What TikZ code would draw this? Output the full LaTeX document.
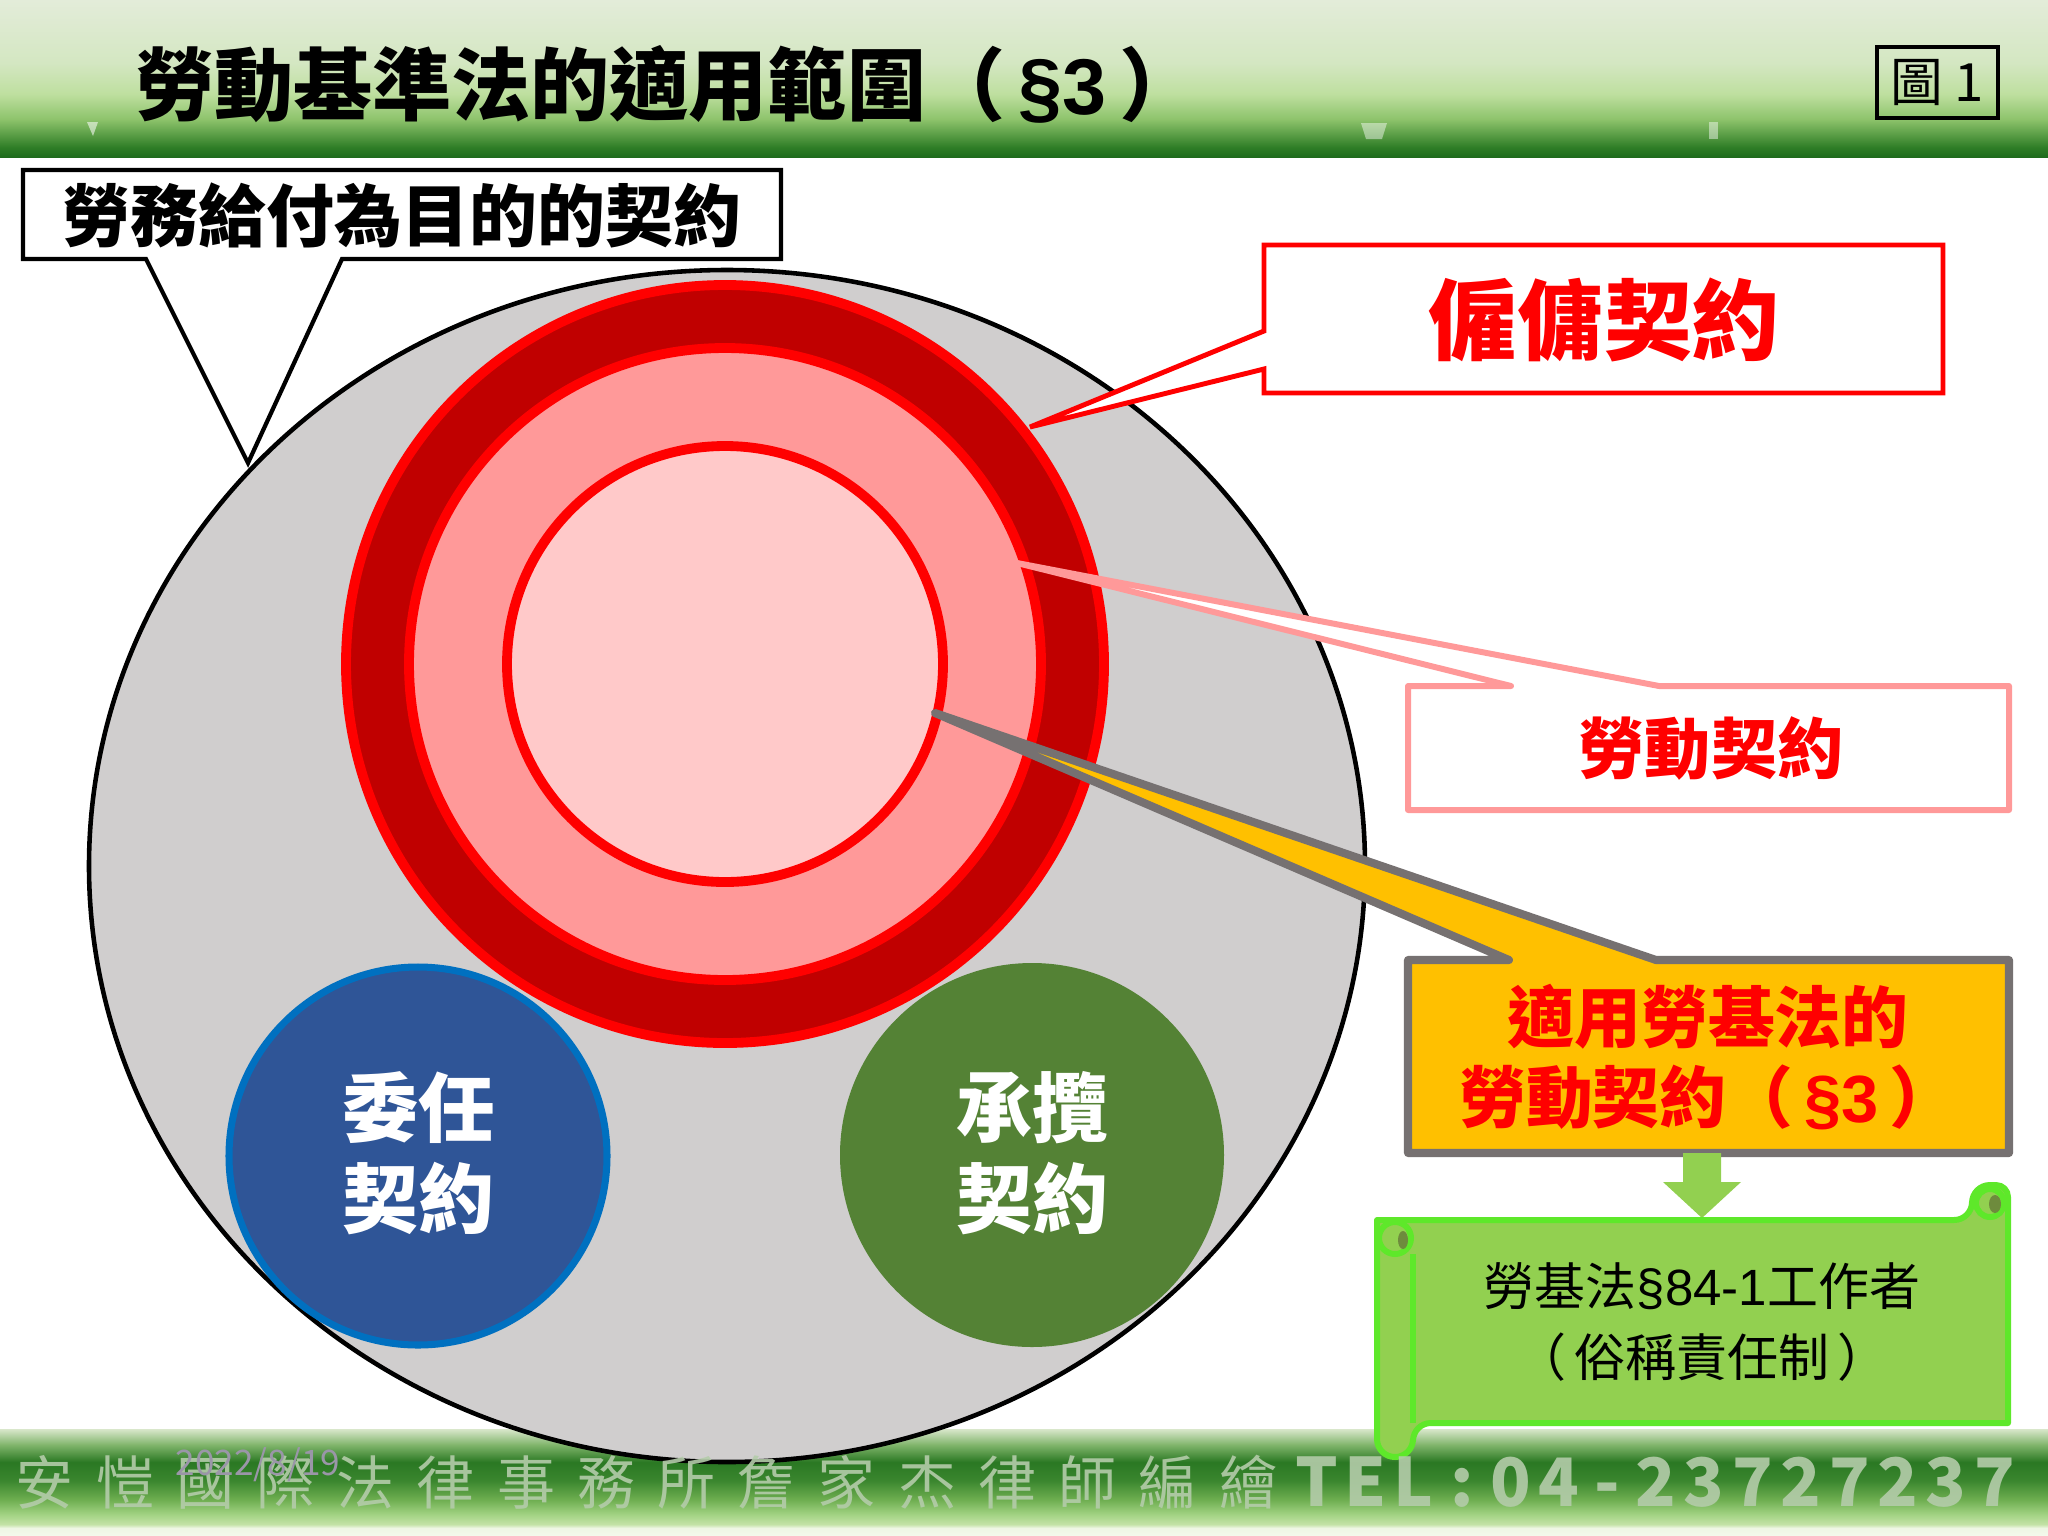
\documentclass[tikz,border=0pt]{standalone}
\usepackage{fontspec}
\setmainfont{Noto Sans CJK TC}
\newfontfamily\latinf{Liberation Sans}
\usetikzlibrary{calc}
\definecolor{grayfill}{HTML}{D0CECE}
\definecolor{darkred}{HTML}{C00000}
\definecolor{pinkmid}{HTML}{FF9999}
\definecolor{pinklight}{HTML}{FFC9C9}
\definecolor{pinkline}{HTML}{FF9999}
\definecolor{bluefill}{HTML}{2F5597}
\definecolor{blueline}{HTML}{0070C0}
\definecolor{greenfill}{HTML}{548235}
\definecolor{yellowfill}{HTML}{FFC000}
\definecolor{grayline}{HTML}{767171}
\definecolor{scrollfill}{HTML}{92D050}
\definecolor{scrollline}{HTML}{5EE82A}
\definecolor{curl}{HTML}{6E8B3D}
\definecolor{datecol}{HTML}{9A96A8}
\definecolor{ftxt}{HTML}{B4CCAA}
% header colours
\definecolor{hd0}{HTML}{1E6B1C}
\definecolor{hd1}{HTML}{2E7D26}
\definecolor{hd2}{HTML}{8DC36B}
\definecolor{hd3}{HTML}{BEDF9F}
\definecolor{hd4}{HTML}{D4E7C2}
\definecolor{hd5}{HTML}{E3ECD9}
% footer colours
\definecolor{ft0}{HTML}{F4F9EC}
\definecolor{ft1}{HTML}{EEF6E4}
\definecolor{ft2}{HTML}{C3E2A6}
\definecolor{ft3}{HTML}{A3D384}
\definecolor{ft4}{HTML}{6EAE50}
\definecolor{ft5}{HTML}{3A862E}
\definecolor{ft6}{HTML}{2A7823}
\definecolor{ft7}{HTML}{7FB46A}
\definecolor{ft8}{HTML}{D9E7CB}
\pgfdeclareverticalshading{hdrshade}{100bp}{color(0bp)=(hd0); color(25bp)=(hd0); color(28bp)=(hd1); color(37bp)=(hd2); color(45bp)=(hd3); color(55bp)=(hd4); color(75bp)=(hd5); color(100bp)=(hd5)}
\pgfdeclareverticalshading{ftrshade}{100bp}{color(0bp)=(ft0); color(25bp)=(ft0); color(28.75bp)=(ft1); color(30.5bp)=(ft2); color(35bp)=(ft3); color(42bp)=(ft4); color(51bp)=(ft5); color(59.5bp)=(ft6); color(67.5bp)=(ft7); color(75bp)=(ft8); color(100bp)=(ft8)}
\tikzset{
  boldtxt/.style={font=\bfseries\fontsize{#1}{30}\selectfont},
  circtxt/.style={text=white, align=center, font=\bfseries\fontsize{21.6}{26}\selectfont},
  foottxt/.style={anchor=base, font=\fontsize{16.5}{18}\selectfont},
  telttxt/.style={anchor=base, font=\bfseries\fontsize{19}{21}\selectfont},
}
\newcommand{\secsym}[1]{{\latinf\bfseries §#1}}
\begin{document}
\begin{tikzpicture}[x=0.01cm,y=-0.01cm, every node/.style={inner sep=0pt, outer sep=0pt}]
\useasboundingbox (0,0) rectangle (2048,1536);
\fill[white] (0,0) rectangle (2048,1536);
% ---------------- header
\shade[shading=hdrshade] (0,0) rectangle (2048,157);
\fill[white, opacity=.55] (87,122) -- (98,122) -- (93,136) -- cycle;
\fill[white, opacity=.45] (1361,123) -- (1387,123) -- (1382,139) -- (1366,139) -- cycle;
\fill[white, opacity=.45] (1709,122) rectangle (1718,139);
\node[anchor=west, font=\bfseries\fontsize{22.5}{26}\selectfont] (title) at (135,84) {勞動基準法的適用範圍（\,\secsym{3}\,）};
\draw[line width=1.3pt] (1877,47) rectangle (1998,118);
\node[font=\fontsize{15}{18}\selectfont] (fig) at (1937,83) {圖 1};
% ---------------- footer band
\shade[shading=ftrshade] (0,1429) rectangle (2048,1536);
% ---------------- big gray circle
\coordinate (big) at (727,866);
\draw[fill=grayfill, line width=1.3pt] (big) ellipse [x radius=638, y radius=596];
% small circles
\coordinate (bluec) at (418,1156);
\coordinate (greenc) at (1032,1155);
\draw[blueline, fill=bluefill, line width=2pt] (bluec) circle[radius=189];
\fill[greenfill] (greenc) circle[radius=192];
% red rings
\coordinate (ring) at (725,664);
\draw[red, fill=darkred, line width=2.8pt] (ring) circle[radius=379];
\draw[red, fill=pinkmid, line width=2.8pt] (ring) circle[radius=316];
\draw[red, fill=pinklight, line width=2.8pt] (ring) circle[radius=218];
% ---------------- callout: 勞務給付為目的的契約
\draw[fill=white, line width=1.2pt] (23,170) -- (781,170) -- (781,259) -- (342,259) -- (248,463) -- (146,259) -- (23,259) -- cycle;
\node[boldtxt=19.3] (lab) at (402,215) {勞務給付為目的的契約};
% ---------------- callout: 僱傭契約
\draw[red, fill=white, line width=1.4pt] (1264,245) -- (1943,245) -- (1943,393) -- (1264,393) -- (1264,369) -- (1030,427) -- (1264,331) -- cycle;
\node[boldtxt=25, text=red] (emp) at (1604,320) {僱傭契約};
% ---------------- callout: 勞動契約
\draw[pinkline, fill=white, line width=1.7pt, line join=round] (1408,686) -- (1511,686) -- (1017,563) -- (1659,686) -- (2009,686) -- (2009,810) -- (1408,810) -- cycle;
\node[boldtxt=18.8, text=red] (lab2) at (1711,748) {勞動契約};
% ---------------- callout: 適用勞基法的勞動契約
\draw[grayline, fill=yellowfill, line width=2.3pt, line join=round] (1408,960) -- (1509,960) -- (935,713) -- (1656,960) -- (2009,960) -- (2009,1153) -- (1408,1153) -- cycle;
\node[text=red, align=center, font=\bfseries\fontsize{19}{23}\selectfont] (app) at (1708,1057) {適用勞基法的\\勞動契約（\,\secsym{3}\,）};
% ---------------- arrow
\coordinate (arrS) at (1702,1153);
\coordinate (arrT) at (1702,1218);
\fill[scrollfill] ($(arrS)+(-19,0)$) -- ($(arrS)+(19,0)$) -- ($(arrS)+(19,29)$) -- ($(arrS)+(39,29)$) -- (arrT) -- ($(arrS)+(-39,29)$) -- ($(arrS)+(-19,29)$) -- cycle;
% ---------------- scroll
\draw[scrollline, fill=scrollfill, line width=1.7pt, line join=round]
  (1413,1423) -- (2008,1423) [rounded corners=3.4pt] -- (2008,1185) [rounded corners=5.1pt] -- (1972,1185) -- (1972,1220) [sharp corners] -- (1377,1220) [rounded corners=5.1pt] -- (1377,1457) -- (1413,1457) -- cycle;
\draw[scrollline, line width=1.7pt] (1413,1423) -- (1413,1254);
\draw[scrollline, fill=scrollfill, line width=1.7pt] (1395,1238) circle[radius=16];
\fill[curl] (1403,1240) ellipse[x radius=5, y radius=9];
\draw[scrollline, fill=scrollfill, line width=1.7pt] (1990,1203) circle[radius=14];
\fill[curl] (1995,1204) ellipse[x radius=6, y radius=9];
\node[align=center, font=\fontsize{14.5}{20.2}\selectfont] (law) at (1702,1322) {勞基法{\latinf §84-1}工作者\\（\,俗稱責任制\,）};
% ---------------- circle texts
\node[circtxt] (wr) at (418,1153) {委任\\契約};
\node[circtxt] (cl) at (1032,1153) {承攬\\契約};
% ---------------- footer texts
\foreach \c [count=\i from 0] in {安,愷,國,際,法,律,事,務,所,詹,家,杰,律,師,編,繪} {
  \node[foottxt, text=ftxt, opacity=.9] (f\i) at (45+\i*80.2,1504) {\c};
}
\foreach \c [count=\i from 0] in {T,E,L,:,0,4,-,2,3,7,2,7,2,3,7} {
  \node[telttxt, text=ftxt, opacity=.9] (t\i) at (1317+\i*48.4,1506) {\c};
}
\node[text=datecol, font=\fontsize{10}{12}\selectfont] (date) at (258,1465) {2022/8/19};
\end{tikzpicture}
\end{document}
